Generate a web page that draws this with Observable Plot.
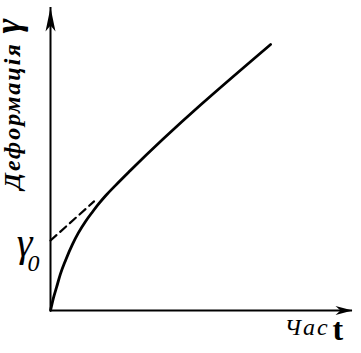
<!DOCTYPE html>
<html>
<head>
<meta charset="utf-8">
<script src="https://cdn.jsdelivr.net/npm/d3@7"></script>
<script src="https://cdn.jsdelivr.net/npm/@observablehq/plot@0.6"></script>
<style>
  html, body { margin: 0; padding: 0; background: #fff; }
  svg { display: block; }
  #chart svg text { font-family: "Liberation Serif", serif !important; letter-spacing: 2px; }
</style>
</head>
<body>
<div id="chart"></div>
<script>
// Creep curve: time t and deformation γ, arbitrary units
const curveT = [0, 0.10, 0.21, 0.34, 0.52, 0.76, 0.96, 1.20, 1.45, 1.65, 1.89, 2.24, 2.75, 7.58];
const curveG = [0, 0.41, 0.77, 1.20, 1.66, 2.19, 2.56, 2.93, 3.26, 3.51, 3.78, 4.13, 4.62, 8.78];
// Dashed extrapolation of the steady part back to t = 0 (γ0)
const dashT = [0, 1.5];
const dashG = [2.31, 3.60];
// Axis extents (arrow tips)
const axisMaxT = 10.4;
const axisMaxG = 10;
// Labels
const yLabel = "Деформація";
const yLabelSym = "γ";
const xLabel = "Час";
const xLabelSym = "t";
const g0Label = "γ";
const g0Sub = "0";

const curve = curveT.map((t, i) => ({t, g: curveG[i]}));
const dash = dashT.map((t, i) => ({t, g: dashG[i]}));

const headRight = {
  draw(ctx) {
    ctx.moveTo(0, 0);
    ctx.lineTo(-17, -4.5);
    ctx.lineTo(-12, 0);
    ctx.lineTo(-17, 4.5);
    ctx.closePath();
  }
};
const headUp = {
  draw(ctx) {
    ctx.moveTo(0, 0);
    ctx.lineTo(-5, 24);
    ctx.lineTo(0, 18);
    ctx.lineTo(5, 24);
    ctx.closePath();
  }
};

const chart = Plot.plot({
  width: 361,
  height: 353,
  marginLeft: 50,
  marginRight: 9,
  marginTop: 7,
  marginBottom: 43,
  x: {domain: [0, axisMaxT], axis: null},
  y: {domain: [0, axisMaxG], axis: null},
  style: {background: "#fff", overflow: "visible"},
  marks: [
    Plot.ruleY([0], {stroke: "#000", strokeWidth: 2}),
    Plot.ruleX([0], {stroke: "#000", strokeWidth: 2}),
    Plot.dot([{t: axisMaxT, g: 0}], {x: "t", y: "g", symbol: headRight, fill: "#000", stroke: "none", r: 5}),
    Plot.dot([{t: 0, g: axisMaxG}], {x: "t", y: "g", symbol: headUp, fill: "#000", stroke: "none", r: 5}),
    Plot.line(dash, {x: "t", y: "g", stroke: "#000", strokeWidth: 2.2, strokeDasharray: "8,5"}),
    Plot.line(curve, {x: "t", y: "g", stroke: "#000", strokeWidth: 2.8, curve: "monotone-x"}),
    // Y axis label
    Plot.text([yLabel], {frameAnchor: "top-left", dx: -48, dy: 182, rotate: -90, textAnchor: "start",
      fontFamily: "Liberation Serif", fontStyle: "italic", fontWeight: "bold", fontSize: 24, fill: "#000"}),
    Plot.text([yLabelSym], {frameAnchor: "top-left", dx: -56, dy: 26, rotate: -90, textAnchor: "start",
      fontFamily: "Liberation Serif", fontStyle: "italic", fontWeight: "bold", fontSize: 36, fill: "#000"}),
    // γ0 label
    Plot.text([g0Label], {frameAnchor: "top-left", dx: -25, dy: 220, textAnchor: "middle",
      fontFamily: "Liberation Serif", fontStyle: "italic", fontSize: 40, fill: "#000"}),
    Plot.text([g0Sub], {frameAnchor: "top-left", dx: -16, dy: 246, textAnchor: "middle",
      fontFamily: "Liberation Serif", fontStyle: "italic", fontSize: 24, fill: "#000"}),
    // X axis label
    Plot.text([xLabel], {frameAnchor: "top-left", dx: 234, dy: 310, textAnchor: "start",
      fontFamily: "Liberation Serif", fontStyle: "italic", fontSize: 24, fill: "#000"}),
    Plot.text([xLabelSym], {frameAnchor: "top-left", dx: 282, dy: 310, textAnchor: "start",
      fontFamily: "Liberation Serif", fontWeight: "bold", fontSize: 32, fill: "#000"})
  ]
});
document.getElementById("chart").appendChild(chart);
</script>
</body>
</html>
